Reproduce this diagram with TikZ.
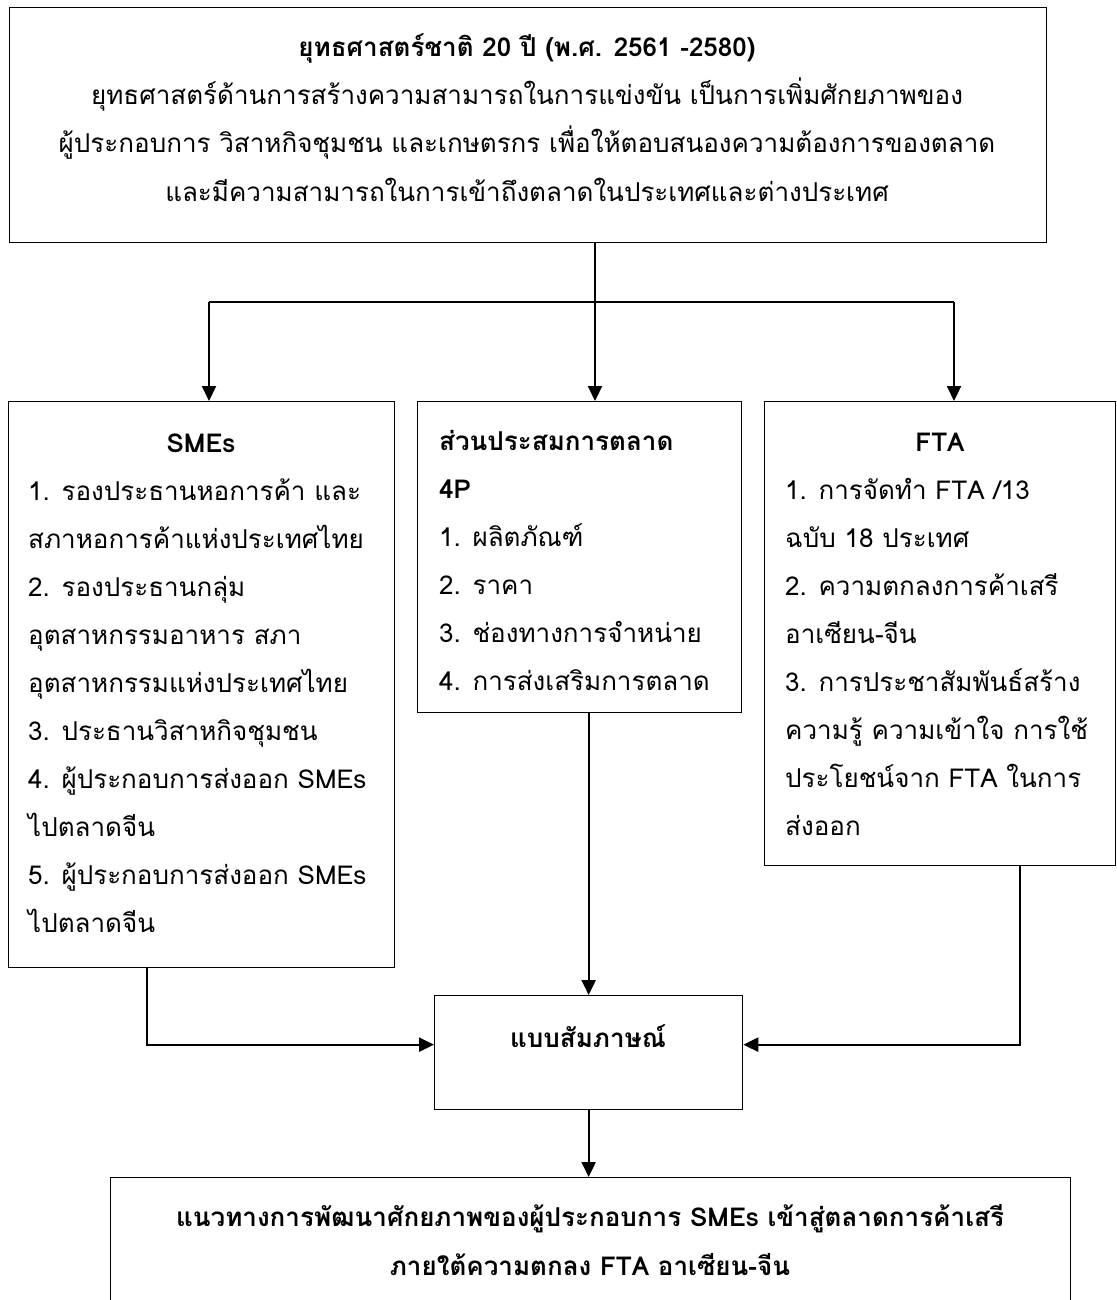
\documentclass[tikz,border=0pt]{standalone}
\usepackage{fontspec}
\setmainfont[Script=Thai]{Loma}
\usetikzlibrary{arrows.meta,positioning,calc}

\begin{document}
\begin{tikzpicture}[x=1pt,y=-1pt,
  box/.style={draw,line width=1.3pt,anchor=north west,inner sep=0pt},
  txt/.style={font=\fontsize{26}{48}\selectfont,inner sep=0pt,anchor=base west},
  ttl/.style={font=\fontsize{26}{48}\selectfont\bfseries,inner sep=0pt,anchor=base},
  arr/.style={line width=2.2pt,-{Triangle[length=15pt,width=14pt]}},
  con/.style={line width=2.2pt}]
\useasboundingbox[fill=white] (0,0) rectangle (1116,1300);
% boxes
\node[box,minimum width=1037pt,minimum height=235pt] (top) at (9,7) {};
\node[box,minimum width=386pt,minimum height=566pt] (smes) at (8,401) {};
\node[box,minimum width=324pt,minimum height=311pt] (mix) at (417,401) {};
\node[box,minimum width=351pt,minimum height=464pt] (fta) at (764,401) {};
\node[box,minimum width=308pt,minimum height=114pt] (iv) at (434,995) {};
\node[box,minimum width=960pt,minimum height=160pt] (fin) at (110,1177) {};
% texts
\node[ttl] (top-t) at (527,57) {ยุทธศาสตร์ชาติ 20 ปี (พ.ศ. 2561 -2580)};
\foreach \t [count=\i from 0] in {ยุทธศาสตร์ด้านการสร้างความสามารถในการแข่งขัน เป็นการเพิ่มศักยภาพของ,ผู้ประกอบการ วิสาหกิจชุมชน และเกษตรกร เพื่อให้ตอบสนองความต้องการของตลาด,และมีความสามารถในการเข้าถึงตลาดในประเทศและต่างประเทศ}{\node[txt,anchor=base] (top-\i) at (527,105+48*\i) {\t};}
\node[ttl] (smes-t) at (201,452) {SMEs};
\foreach \t [count=\i from 0] in {1. รองประธานหอการค้า และ,สภาหอการค้าแห่งประเทศไทย,2. รองประธานกลุ่ม,อุตสาหกรรมอาหาร สภา,อุตสาหกรรมแห่งประเทศไทย,3. ประธานวิสาหกิจชุมชน,4. ผู้ประกอบการส่งออก SMEs,ไปตลาดจีน,5. ผู้ประกอบการส่งออก SMEs,ไปตลาดจีน}{\node[txt] (smes-\i) at (28,500+48*\i) {\t};}
\node[ttl,anchor=base west] (mix-t) at (439,450) {ส่วนประสมการตลาด};
\node[ttl,anchor=base west] (mix-p) at (439,498) {4P};
\foreach \t [count=\i from 0] in {1. ผลิตภัณฑ์,2. ราคา,3. ช่องทางการจำหน่าย,4. การส่งเสริมการตลาด}{\node[txt] (mix-\i) at (439,546+48*\i) {\t};}
\node[ttl] (fta-t) at (940,451) {FTA};
\foreach \t [count=\i from 0] in {1. การจัดทำ FTA /13,ฉบับ 18 ประเทศ,2. ความตกลงการค้าเสรี,อาเซียน-จีน,3. การประชาสัมพันธ์สร้าง,ความรู้ ความเข้าใจ การใช้,ประโยชน์จาก FTA ในการ,ส่งออก}{\node[txt] (fta-\i) at (785,499+48*\i) {\t};}
\node[ttl] (iv-t) at (588,1047) {แบบสัมภาษณ์};
\node[ttl] (fin-1) at (590,1226) {แนวทางการพัฒนาศักยภาพของผู้ประกอบการ SMEs เข้าสู่ตลาดการค้าเสรี};
\node[ttl] (fin-2) at (590,1275) {ภายใต้ความตกลง FTA อาเซียน-จีน};
% connectors
\coordinate (jn) at (595,302); \coordinate (bL) at (209,302); \coordinate (bR) at (954,302);
\draw[con] (jn |- top.south) -- (jn); \draw[con] (bL) -- (bR);
\foreach \b/\n in {bL/smes,jn/mix,bR/fta}{\draw[arr] (\b) -- (\b |- \n.north);}
\draw[arr] (iv.north |- mix.south) -- (iv.north);
\draw[arr] ([xshift=-55pt]smes.south) |- ([yshift=8pt]iv.west);
\draw[arr] ([xshift=80pt]fta.south) |- ([yshift=8pt]iv.east);
\draw[arr] (iv.south) -- (iv.south |- fin.north);
\end{tikzpicture}
\end{document}
